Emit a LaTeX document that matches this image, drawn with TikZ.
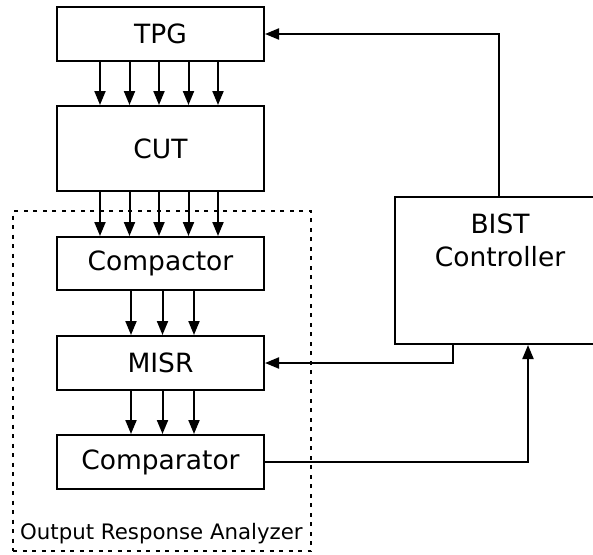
\documentclass[tikz,border=0pt]{standalone}
\usepackage{fontspec}
\setmainfont{DejaVu Sans}
\usetikzlibrary{arrows.meta}
\begin{document}
\begin{tikzpicture}[x=1pt,y=-1pt,
  blk/.style={draw, line width=2pt, minimum width=207pt, inner sep=0pt, font=\fontsize{26.5}{33}\selectfont},
  arr/.style={line width=2pt, -{Triangle[length=14pt,width=11pt]}},
  wire/.style={line width=2pt}]
\useasboundingbox (0,0) rectangle (593,554);
\clip (0,0) rectangle (593,554);
\node[blk, minimum height=54pt] (TPG) at (160.5,34) {TPG};
\node[blk, minimum height=85pt] (CUT) at (160.5,148.5) {CUT};
\node[blk, minimum height=53pt] (CMP) at (160.5,263.5) {Compactor};
\node[blk, minimum height=54pt] (MISR) at (160.5,363) {MISR};
\node[blk, minimum height=54pt] (CMR) at (160.5,462) {Comparator};
\node[draw, line width=2pt, minimum width=210pt, minimum height=147pt, inner sep=0pt,
  label={[align=center, anchor=north, inner sep=0pt, yshift=-18pt, font=\fontsize{26.5}{33}\selectfont]north:{BIST\\Controller}}]
  (BIST) at (500,270.5) {};
\node[draw, dash pattern=on 4pt off 5.5pt, line width=2pt, minimum width=298pt, minimum height=340pt, inner sep=0pt] (ORA) at (162,381) {};
\node[anchor=base west, inner sep=0pt, font=\fontsize{21.3}{25}\selectfont] (ORAlbl) at (20,539) {Output Response Analyzer};
\foreach \x in {100,129.5,159,188.5,218}{
  \draw[arr] (TPG.south -| \x,0) -- (CUT.north -| \x,0);
  \draw[arr] (CUT.south -| \x,0) -- (CMP.north -| \x,0);
}
\foreach \x in {131,162.5,194}{
  \draw[arr] (CMP.south -| \x,0) -- (MISR.north -| \x,0);
  \draw[arr] (MISR.south -| \x,0) -- (CMR.north -| \x,0);
}
\draw[arr] (BIST.north -| 499,0) |- (TPG.east);
\draw[arr] (BIST.south -| 453,0) |- (MISR.east);
\draw[arr] (CMR.east) -| (BIST.south -| 528,0);
\end{tikzpicture}
\end{document}
